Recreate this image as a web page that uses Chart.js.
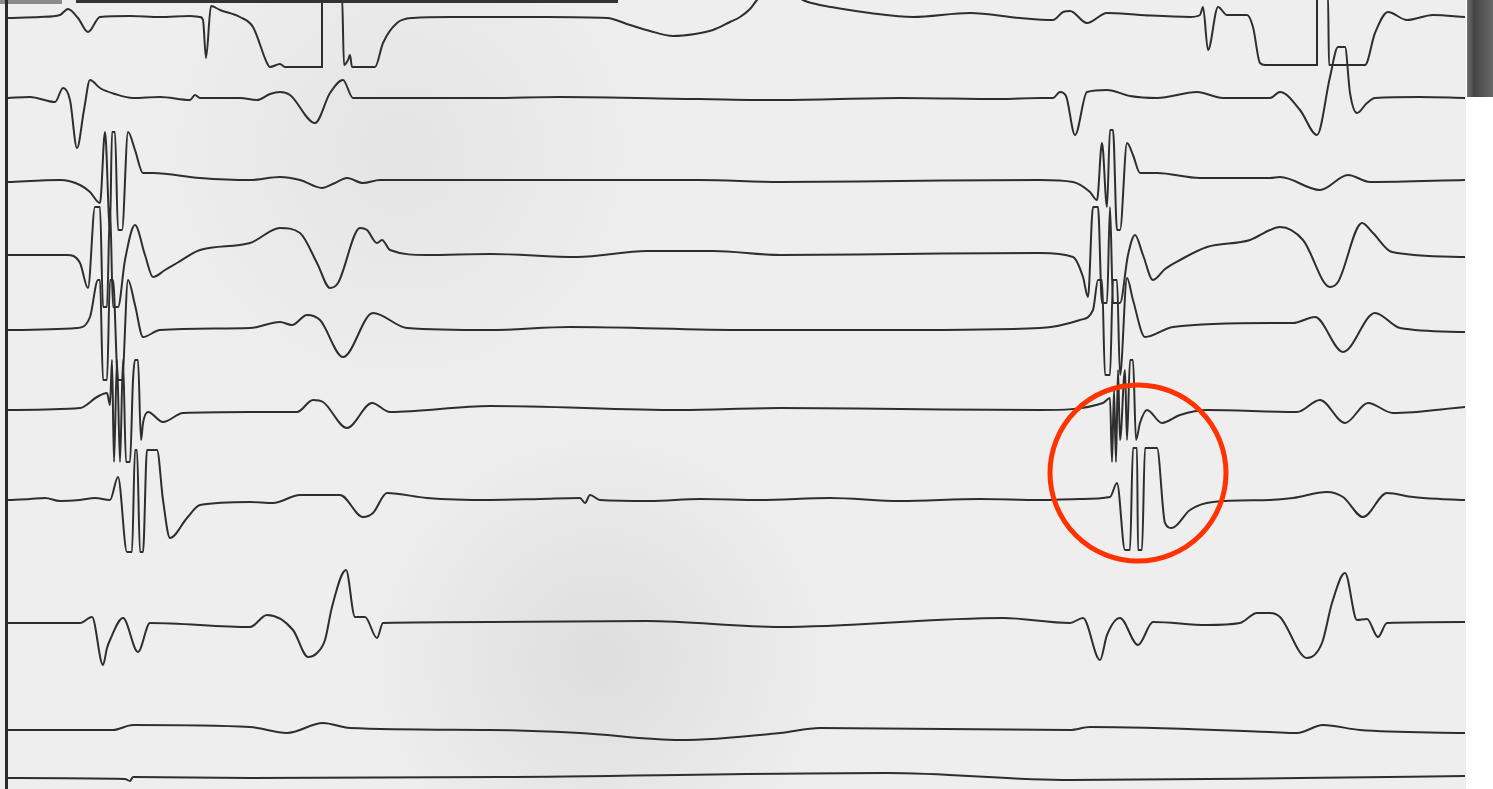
<!DOCTYPE html>
<html>
<head>
<meta charset="utf-8">
<script src="https://cdn.jsdelivr.net/npm/chart.js@4"></script>
<style>
  html, body { margin: 0; padding: 0; background: #ffffff; }
  canvas { display: block; }
</style>
</head>
<body>
<canvas id="egm-chart" width="1493" height="789"></canvas>
<script>
var lead1Time = [8, 40, 60, 68, 78, 88, 100, 130, 160, 190, 200, 203, 206, 211, 220, 240, 253, 267, 270, 280, 285, 322, 322, 342, 344, 348, 350, 352, 375, 383, 397, 413, 450, 490, 547, 607, 630, 650, 673, 695, 713, 730, 740, 750, 757, 768, 788, 803, 820, 837, 870, 913, 970, 1020, 1053, 1063, 1070, 1087, 1107, 1140, 1190, 1200, 1203, 1208, 1218, 1227, 1247, 1253, 1260, 1265, 1317, 1317, 1328, 1329, 1365, 1375, 1388, 1407, 1433, 1465];
var lead1Amp = [0, 1, 3, 9, 0, -14, 1, 2, 1, 2, 1, -2, -40, 12, 8, 1, -9, -45, -49, -46, -49, -49, 23, 23, -47, -42, -37, -49, -49, -25, -5, 0, 1, 1, 1, 0, -7, -13, -18, -16, -12, -4, 1, 9, 18, 28, 28, 18, 13, 10, 5, 1, 5, 0, -2, 6, 7, -5, 5, 3, 1, 3, 11, -32, 11, 3, 3, -9, -45, -47, -47, 23, 23, -47, -47, -15, 6, -2, 3, 1];

var lead2Time = [8, 30, 55, 63, 70, 77, 84, 90, 100, 115, 133, 160, 190, 195, 200, 240, 257, 270, 280, 290, 315, 330, 343, 353, 400, 490, 560, 700, 780, 900, 1000, 1040, 1053, 1060, 1066, 1075, 1087, 1107, 1130, 1157, 1197, 1223, 1270, 1280, 1300, 1317, 1330, 1338, 1345, 1350, 1357, 1367, 1375, 1420, 1465];
var lead2Amp = [0, 1, -4, 10, -2, -50, -12, 18, 10, 4, 0, 1, -2, 3, 0, 0, -2, 4, 6, 3, -25, 5, 18, 0, 0, 0, 1, -1, -2, 0, -1, 0, 0, 6, 2, -37, 6, 8, 2, 0, 6, 0, 0, 6, -12, -37, 21, 51, 51, 5, -15, -5, 0, 1, 0];

var lead3Time = [8, 60, 80, 90, 100, 105, 110, 112, 115, 118, 122, 128, 135, 143, 153, 200, 250, 280, 300, 322, 335, 347, 363, 380, 490, 700, 780, 900, 1040, 1073, 1090, 1097, 1102, 1107, 1110, 1113, 1117, 1120, 1127, 1133, 1140, 1157, 1200, 1270, 1280, 1320, 1348, 1370, 1465];
var lead3Amp = [-2, 0, -5, -12, -23, 48, -50, 48, 48, -50, -50, 48, 30, 7, 7, 2, 0, 3, 0, -8, -3, 2, -3, 0, 0, 0, -2, -1, 0, -2, -12, -20, 37, -27, 50, 50, -50, -50, 37, 25, 7, 7, 2, 2, 3, -10, 5, -2, 0];

var lead4Time = [8, 67, 80, 88, 95, 100, 103, 107, 110, 113, 118, 125, 135, 145, 153, 165, 177, 200, 250, 280, 300, 317, 330, 338, 360, 367, 377, 382, 390, 427, 490, 577, 647, 713, 780, 900, 1040, 1073, 1083, 1088, 1093, 1098, 1102, 1107, 1110, 1113, 1120, 1128, 1135, 1143, 1153, 1165, 1180, 1207, 1250, 1270, 1280, 1303, 1330, 1338, 1362, 1373, 1392, 1465];
var lead4Amp = [0, 0, -8, -33, 48, 48, -52, -52, 48, -52, -52, -5, 30, 0, -22, -15, -8, 5, 12, 27, 22, -8, -33, -28, 27, 25, 12, 15, 5, 0, 1, -2, 4, 4, 0, 1, 2, -2, -22, -42, 48, 48, -48, -48, 48, -48, -48, 0, 20, 0, -25, -14, -5, 8, 15, 25, 28, 15, -32, -27, 32, 22, 3, -2];

var lead5Time = [8, 77, 90, 98, 100, 103, 107, 110, 113, 118, 122, 128, 135, 143, 160, 250, 280, 292, 307, 320, 343, 373, 407, 490, 570, 747, 900, 1040, 1080, 1093, 1098, 1102, 1105, 1110, 1113, 1117, 1120, 1127, 1133, 1145, 1173, 1270, 1293, 1315, 1343, 1375, 1400, 1465];
var lead5Amp = [0, 2, 13, 50, 50, -50, -50, 50, 50, -50, -50, 50, 25, -7, 0, 2, 8, 5, 15, 10, -27, 17, 2, 0, 3, 0, 0, 2, 10, 20, 50, 50, -45, -45, 50, 50, -45, 52, 30, -7, 3, 7, 7, 13, -22, 17, 2, -2];

var lead6Time = [8, 80, 97, 107, 110, 112, 114, 117, 120, 123, 126, 130, 133, 135, 138, 141, 143, 148, 163, 183, 250, 297, 313, 323, 347, 372, 390, 490, 680, 780, 900, 1040, 1103, 1110, 1112, 1114, 1116, 1118, 1120, 1125, 1127, 1130, 1133, 1136, 1140, 1147, 1162, 1180, 1207, 1297, 1320, 1345, 1368, 1393, 1465];
var lead6Amp = [0, 2, 13, 17, 5, 50, -52, 50, -52, 50, -52, -52, 30, 50, 50, -30, -13, -2, -12, -3, -2, -2, 10, 8, -18, 7, -2, 4, 0, 2, 1, 0, 7, 12, -52, 20, -52, 40, -30, 40, -30, 50, 50, -30, -13, 0, -13, -5, 0, -2, 10, -13, 7, -3, 3];

var lead7Time = [8, 30, 45, 60, 80, 95, 110, 118, 127, 132, 135, 137, 140, 143, 147, 157, 163, 170, 187, 200, 250, 273, 300, 340, 363, 373, 387, 427, 490, 540, 580, 585, 590, 600, 650, 700, 760, 830, 900, 980, 1040, 1080, 1110, 1117, 1125, 1130, 1133, 1137, 1138, 1142, 1145, 1157, 1165, 1172, 1190, 1213, 1270, 1293, 1327, 1343, 1363, 1387, 1413, 1440, 1465];
var lead7Amp = [0, 1, 2, -1, 0, 2, 0, 23, -52, -52, 50, 50, -52, -52, 50, 50, 0, -38, -18, -5, -2, -3, 5, 5, -17, -13, 7, 2, 0, 1, 2, -3, 5, 0, -1, 1, 0, 2, -1, 1, 0, 1, 3, 17, -50, -50, 52, 52, -50, -50, 52, 52, -23, -28, -10, -2, 0, 2, 8, 3, -17, 7, 3, 1, 0];

var lead8Time = [8, 80, 92, 103, 107, 110, 123, 138, 150, 250, 267, 293, 308, 317, 325, 332, 346, 355, 365, 377, 383, 490, 647, 780, 1003, 1070, 1083, 1100, 1107, 1120, 1138, 1153, 1207, 1240, 1257, 1270, 1280, 1307, 1322, 1332, 1345, 1357, 1367, 1378, 1387, 1465];
var lead8Amp = [0, 0, 6, -42, -25, -17, 5, -29, 0, -4, 8, -7, -34, -30, -17, 16, 53, 6, 6, -15, 0, 1, 2, -4, 5, 0, 5, -37, -12, 5, -22, 1, -2, 0, 10, 10, 6, -35, -20, 20, 50, 3, 4, -14, 0, 1];

var lead9Time = [8, 113, 133, 250, 287, 323, 350, 490, 580, 680, 780, 820, 1070, 1090, 1270, 1297, 1323, 1360, 1465];
var lead9Amp = [0, 0, 5, 3, -3, 7, 2, 0, -3, -10, -3, 2, 0, 3, -2, -3, 5, 0, -3];

var lead10Time = [8, 125, 130, 133, 250, 500, 887, 1070, 1300, 1465];
var lead10Amp = [0, -1, -3, 1, 0, 1, 5, -2, 0, 2];

var leadTimes = [lead1Time, lead2Time, lead3Time, lead4Time, lead5Time, lead6Time, lead7Time, lead8Time, lead9Time, lead10Time];
var leadAmps = [lead1Amp, lead2Amp, lead3Amp, lead4Amp, lead5Amp, lead6Amp, lead7Amp, lead8Amp, lead9Amp, lead10Amp];

// where each lead's baseline sits on the strip
var leadBaselines = [18, 98, 180, 255, 330, 410, 500, 623, 730, 778];

function buildDatasets() {
    var datasets = [];
    for (var i = 0; i < leadTimes.length; i++) {
        var points = [];
        for (var j = 0; j < leadTimes[i].length; j++) {
            points.push({ x: leadTimes[i][j], y: leadBaselines[i] - leadAmps[i][j] });
        }
        datasets.push({
            label: "Lead " + (i + 1),
            data: points,
            borderColor: "#2e2e2e",
            borderWidth: 2,
            pointRadius: 0,
            cubicInterpolationMode: "monotone",
            clip: 0
        });
    }
    return datasets;
}

var paperPlugin = {
    id: "paper",
    beforeDraw: function (chart) {
        var ctx = chart.ctx;
        ctx.save();
        ctx.fillStyle = "#eeeeee";
        ctx.fillRect(0, 0, chart.width, chart.height);
        // faint darker smudges in the scan
        var g = ctx.createRadialGradient(600, 660, 20, 600, 660, 240);
        g.addColorStop(0, "rgba(205,205,205,0.45)");
        g.addColorStop(1, "rgba(205,205,205,0)");
        ctx.fillStyle = g;
        ctx.fillRect(300, 420, 620, 369);
        var g2 = ctx.createRadialGradient(400, 150, 20, 400, 150, 260);
        g2.addColorStop(0, "rgba(215,215,215,0.4)");
        g2.addColorStop(1, "rgba(215,215,215,0)");
        ctx.fillStyle = g2;
        ctx.fillRect(100, 0, 620, 420);
        ctx.restore();
    },
    afterDatasetsDraw: function (chart) {
        var ctx = chart.ctx;
        var xs = chart.scales.x;
        var ys = chart.scales.y;
        ctx.save();
        // white margin on the right
        var edge = xs.getPixelForValue(1466);
        ctx.fillStyle = "#ffffff";
        ctx.fillRect(edge, 0, chart.width - edge, chart.height);
        var dark = ctx.createLinearGradient(edge, 0, chart.width, 0);
        dark.addColorStop(0, "#777777");
        dark.addColorStop(0.3, "#444444");
        dark.addColorStop(1, "#6a6a6a");
        ctx.fillStyle = dark;
        ctx.fillRect(edge + 1, 0, chart.width - edge, 97);
        // top edge bars
        ctx.fillStyle = "#8a8a8a";
        ctx.fillRect(0, 0, 62, 4);
        ctx.fillStyle = "#333333";
        ctx.fillRect(76, 0, 542, 3);
        // left border line
        ctx.fillStyle = "#2a2a2a";
        ctx.fillRect(5, 0, 3, chart.height);
        // red circle marking the beat
        var cx = xs.getPixelForValue(1138);
        var cy = ys.getPixelForValue(473);
        ctx.strokeStyle = "#ff3300";
        ctx.lineWidth = 5;
        ctx.beginPath();
        ctx.arc(cx, cy, 88, 0, Math.PI * 2);
        ctx.stroke();
        ctx.restore();
    }
};

var egmChart;

function init() {
    egmChart = new Chart("egm-chart", {
        type: "line",
        data: { datasets: buildDatasets() },
        options: {
            responsive: false,
            animation: false,
            layout: { padding: 0 },
            scales: {
                x: { type: "linear", display: false, min: 0, max: 1493 },
                y: { display: false, min: 0, max: 789, reverse: true }
            },
            plugins: {
                legend: { display: false },
                tooltip: { enabled: false }
            }
        },
        plugins: [paperPlugin]
    });
}

init();
</script>
</body>
</html>
